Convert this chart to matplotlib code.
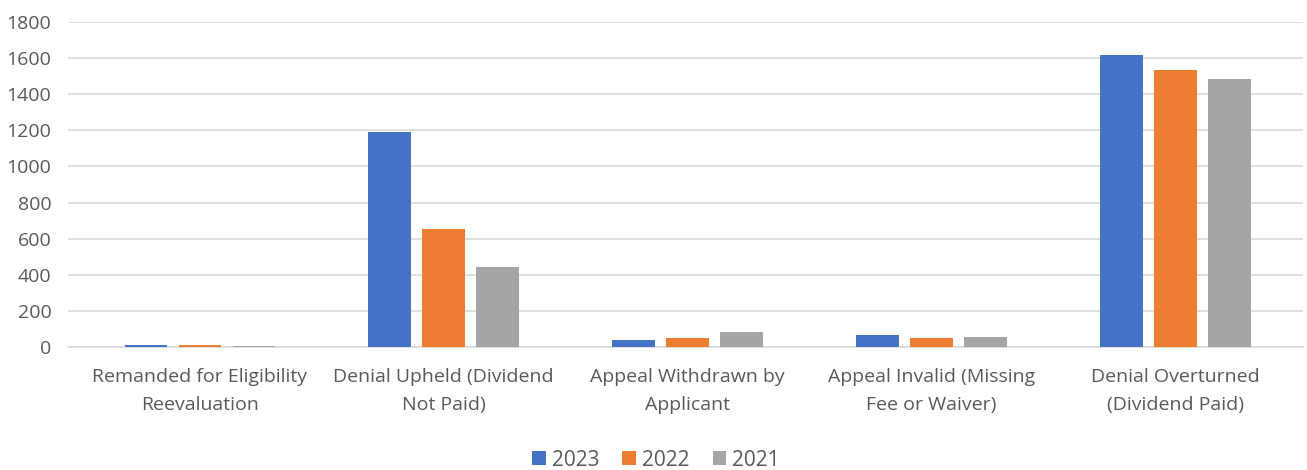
import numpy as np
import matplotlib.pyplot as plt

plt.rcParams['font.family'] = ['Open Sans', 'DejaVu Sans']

categories = ['Remanded for Eligibility\nReevaluation', 'Denial Upheld (Dividend\nNot Paid)',
              'Appeal Withdrawn by\nApplicant', 'Appeal Invalid (Missing\nFee or Waiver)',
              'Denial Overturned\n(Dividend Paid)']
v2023 = [8, 1190, 37, 65, 1617]
v2022 = [12, 652, 50, 50, 1535]
v2021 = [2, 445, 85, 54, 1485]

colors = ['#4472C4', '#ED7D31', '#A5A5A5']
text_col = '#595959'

fig = plt.figure(figsize=(13.07, 4.70), dpi=100)
ax = fig.add_axes([0.052, 0.262, 0.945, 0.691])

x = np.arange(len(categories))
w = 0.176
step = 0.2215
for i, (vals, lab) in enumerate([(v2023, '2023'), (v2022, '2022'), (v2021, '2021')]):
    ax.bar(x + (i - 1) * step, vals, width=w, color=colors[i], label=lab, zorder=3)

ax.set_xlim(-0.5415, 4.525)
ax.set_ylim(0, 1800)
ax.set_yticks(np.arange(0, 1801, 200))
ax.yaxis.grid(True, color='#D9D9D9', linewidth=1.2, zorder=0)
for s in ['top', 'right', 'left']:
    ax.spines[s].set_visible(False)
ax.spines['bottom'].set_color('#D9D9D9')
ax.spines['bottom'].set_linewidth(1.2)
ax.set_xticks(x)
ax.set_xticklabels(categories, fontsize=14, color=text_col, linespacing=1.75)
ax.tick_params(axis='y', labelsize=14, colors=text_col, length=0, pad=12)
ax.tick_params(axis='x', length=0, pad=15)

fig.legend(loc='center', bbox_to_anchor=(0.502, 0.021), ncol=3, frameon=False,
           fontsize=15, labelcolor=text_col, handlelength=0.65, handleheight=0.65,
           handletextpad=0.3, columnspacing=1.1)

fig.savefig('out.png', dpi=100)
